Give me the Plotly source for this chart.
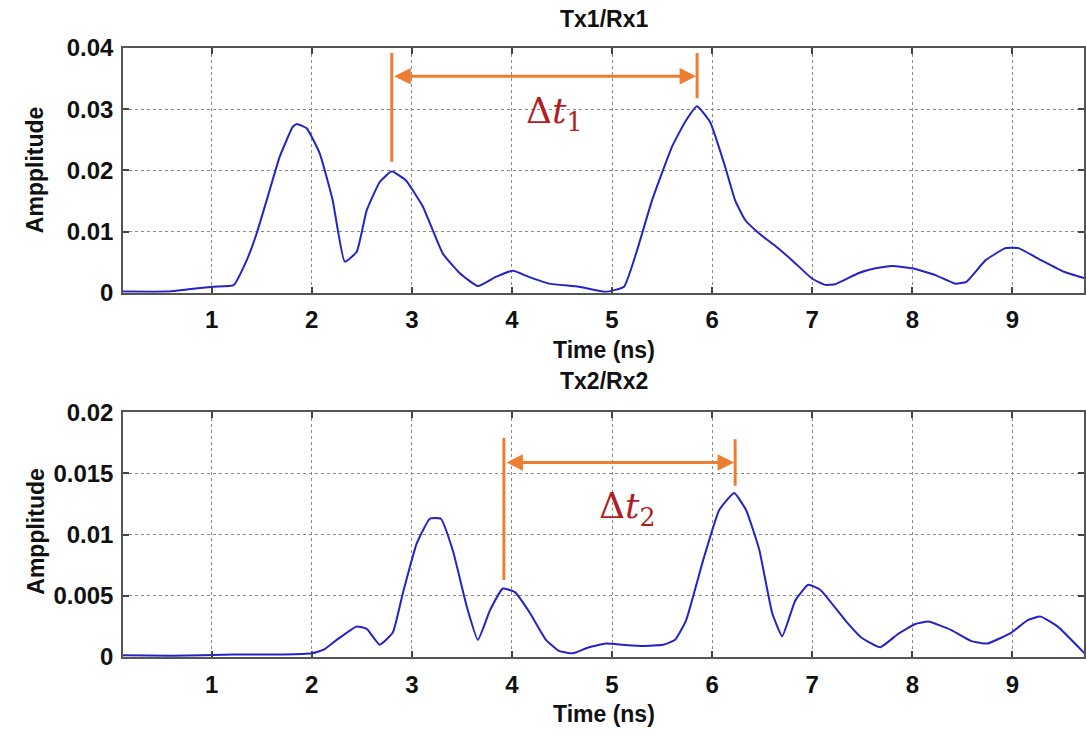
import plotly.graph_objects as go
from plotly.subplots import make_subplots

# ---------------- data ----------------
t1 = [0.11, 0.55, 0.75, 1.02, 1.22, 1.35, 1.45, 1.55, 1.68, 1.81, 1.85, 1.95, 2.08, 2.21, 2.33,
      2.45, 2.55, 2.68, 2.79, 2.81, 2.94, 3.11, 3.31, 3.48, 3.66, 3.84, 4.01, 4.17, 4.37, 4.67,
      4.94, 5.12, 5.24, 5.40, 5.60, 5.74, 5.85, 5.98, 6.13, 6.23, 6.33, 6.47, 6.62, 6.80, 7.00,
      7.13, 7.23, 7.46, 7.63, 7.80, 8.00, 8.23, 8.43, 8.54, 8.73, 8.93, 9.06, 9.29, 9.52, 9.72]
a1 = [0.0002, 0.0002, 0.00055, 0.001, 0.00126, 0.0053, 0.0097, 0.0151, 0.0222, 0.0271, 0.0276,
      0.0269, 0.0228, 0.0151, 0.0051, 0.0067, 0.0135, 0.0181, 0.0198, 0.0198, 0.0184, 0.0141,
      0.0064, 0.0032, 0.0011, 0.0026, 0.0036, 0.0026, 0.0015, 0.001, 0.00016, 0.001, 0.0064,
      0.0151, 0.0239, 0.0282, 0.0305, 0.0279, 0.0206, 0.0151, 0.0119, 0.0097, 0.0078, 0.0053,
      0.0023, 0.0013, 0.0014, 0.0032, 0.004, 0.0044, 0.004, 0.0029, 0.0015, 0.0018, 0.0053,
      0.0073, 0.0073, 0.0053, 0.0034, 0.0024]

t2 = [0.11, 0.6, 1.22, 1.72, 2.0, 2.12, 2.25, 2.45, 2.55, 2.68, 2.81, 2.91, 3.05, 3.18, 3.29,
      3.41, 3.55, 3.66, 3.78, 3.91, 4.03, 4.18, 4.34, 4.47, 4.61, 4.77, 4.94, 5.11, 5.31, 5.51,
      5.63, 5.74, 5.91, 6.07, 6.22, 6.34, 6.47, 6.60, 6.70, 6.83, 6.96, 7.08, 7.33, 7.49, 7.68,
      7.86, 8.03, 8.16, 8.39, 8.59, 8.75, 8.99, 9.15, 9.28, 9.45, 9.72]
a2 = [0.00014, 0.0001, 0.0002, 0.0002, 0.0003, 0.0006, 0.0014, 0.0025, 0.0023, 0.001, 0.002,
      0.0052, 0.0093, 0.0113, 0.0113, 0.0087, 0.0041, 0.0014, 0.0038, 0.0056, 0.0053, 0.0036,
      0.0014, 0.0005, 0.0003, 0.0008, 0.0011, 0.0010, 0.0009, 0.001, 0.0014, 0.003, 0.0079,
      0.012, 0.0134, 0.012, 0.0088, 0.0036, 0.0017, 0.0046, 0.0059, 0.0055, 0.003, 0.0016,
      0.0008, 0.0019, 0.0027, 0.0029, 0.0022, 0.0013, 0.0011, 0.002, 0.003, 0.0033, 0.0025,
      0.0003]

x_ticks = [1, 2, 3, 4, 5, 6, 7, 8, 9]
x_ticklabels = ["1", "2", "3", "4", "5", "6", "7", "8", "9"]
y1_ticks = [0, 0.01, 0.02, 0.03, 0.04]
y1_ticklabels = ["0", "0.01", "0.02", "0.03", "0.04"]
y2_ticks = [0, 0.005, 0.01, 0.015, 0.02]
y2_ticklabels = ["0", "0.005", "0.01", "0.015", "0.02"]
x_range = [0.115, 9.715]

# Δt markers: (left x, left y0, left y1, right x, right y0, right y1, arrow y, label pos)
dt1 = dict(xl=2.80, yl0=0.0214, yl1=0.0392, xr=5.85, yr0=0.0318, yr1=0.0392, ya=0.0354, tx=4.43, ty=0.0293)
dt2 = dict(xl=3.92, yl0=0.0063, yl1=0.0179, xr=6.23, yr0=0.0140, yr1=0.0178, ya=0.0159, tx=5.15, ty=0.0121)

titles = ["Tx1/Rx1", "Tx2/Rx2"]
xlabel = "Time (ns)"
ylabel = "Ampplitude"

# ---------------- figure ----------------
BLUE = "#2323c8"
ORANGE = "#ED7D31"
DARKRED = "#B01E24"
FONT = "Arial"

fig = make_subplots(rows=2, cols=1)
fig.add_trace(go.Scatter(x=t1, y=a1, mode="lines", line=dict(color=BLUE, width=2, shape="spline", smoothing=0.4),
                         showlegend=False), row=1, col=1)
fig.add_trace(go.Scatter(x=t2, y=a2, mode="lines", line=dict(color=BLUE, width=2, shape="spline", smoothing=0.4),
                         showlegend=False), row=2, col=1)

axis_common = dict(
    showline=True, linecolor="#555555", linewidth=1.5, mirror="allticks",
    ticks="inside", ticklen=6, tickwidth=1.5, tickcolor="#444444",
    showgrid=True, gridcolor="#8a8a8a", griddash="dot", gridwidth=1,
    zeroline=False,
    tickfont=dict(family=FONT, size=24, color="#111111", weight="bold"),
)

fig.update_xaxes(range=x_range, tickvals=x_ticks, ticktext=x_ticklabels, ticklabelstandoff=5, **axis_common)
fig.update_yaxes(ticklabelstandoff=3, **axis_common)
fig.update_yaxes(range=[0, 0.04], tickvals=y1_ticks, ticktext=y1_ticklabels, domain=[0.598, 1.0], row=1, col=1)
fig.update_yaxes(range=[0, 0.02], tickvals=y2_ticks, ticktext=y2_ticklabels, domain=[0.0, 0.4018], row=2, col=1)

annotations = []
shapes = []
for i, (d, xr, yr) in enumerate([(dt1, "x", "y"), (dt2, "x2", "y2")]):
    shapes.append(dict(type="line", xref=xr, yref=yr, x0=d["xl"], x1=d["xl"], y0=d["yl0"], y1=d["yl1"],
                       line=dict(color=ORANGE, width=3)))
    shapes.append(dict(type="line", xref=xr, yref=yr, x0=d["xr"], x1=d["xr"], y0=d["yr0"], y1=d["yr1"],
                       line=dict(color=ORANGE, width=3)))
    annotations.append(dict(xref=xr, yref=yr, axref=xr, ayref=yr, x=d["xr"], y=d["ya"], ax=d["xl"], ay=d["ya"],
                            text="", showarrow=True, arrowside="end+start", arrowhead=2, arrowsize=1.1,
                            arrowwidth=3, arrowcolor=ORANGE, standoff=1, startstandoff=1))
    annotations.append(dict(xref=xr, yref=yr, x=d["tx"], y=d["ty"], showarrow=False,
                            xanchor="center", yanchor="middle",
                            text="Δ<i>t</i><sub>%d</sub>" % (i + 1),
                            font=dict(family="DejaVu Serif", size=36, color=DARKRED)))

label_font = dict(family=FONT, size=23, color="#111111", weight="bold")
def lab(x, y, text, angle=0):
    return dict(xref="paper", yref="paper", x=x, y=y, text=text, textangle=angle, showarrow=False,
                xanchor="center", yanchor="middle", font=label_font)

annotations += [
    lab(0.5, 1.0476, titles[0]),
    lab(0.5, 0.453, titles[1]),
    lab(0.5, 0.504, xlabel),
    lab(0.5, -0.0936, xlabel),
    lab(-0.0914, 0.7997, ylabel, -90),
    lab(-0.0914, 0.206, ylabel, -90),
]

fig.update_layout(
    width=1086, height=734,
    margin=dict(l=123, r=0, t=48, b=77),
    paper_bgcolor="white", plot_bgcolor="white",
    shapes=shapes, annotations=annotations,
    showlegend=False,
)

fig.write_html("out.html")
